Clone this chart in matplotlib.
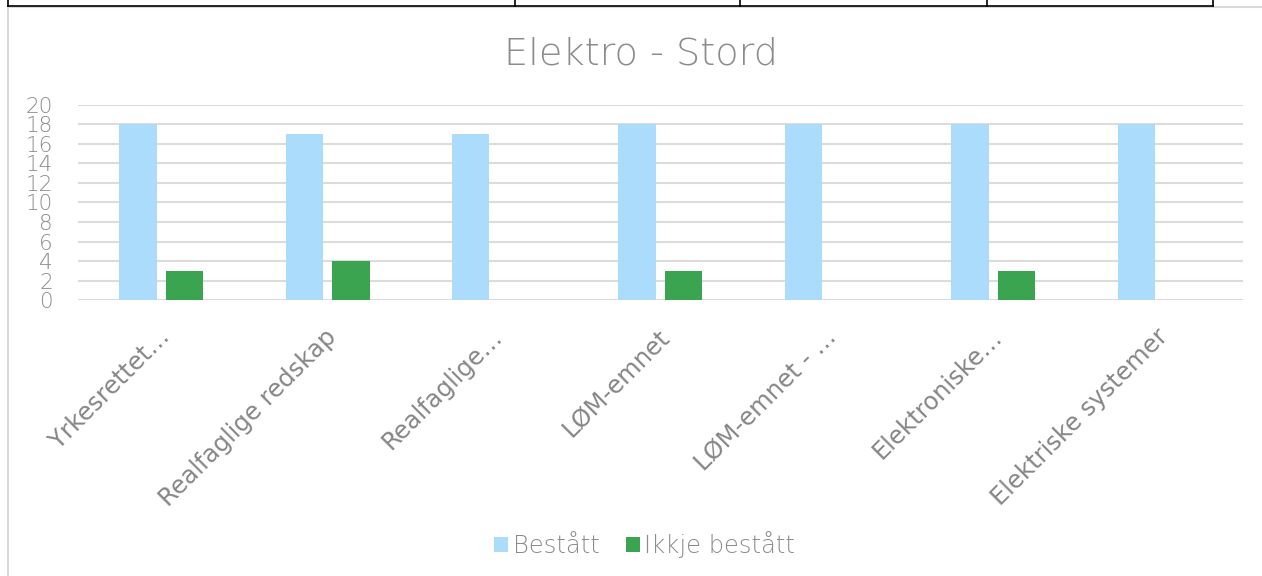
import matplotlib.pyplot as plt
import matplotlib.transforms as mtransforms
import numpy as np
from matplotlib.lines import Line2D

# data
categories = ["Yrkesrettet…", "Realfaglige redskap", "Realfaglige…", "LØM-emnet",
              "LØM-emnet - …", "Elektroniske…", "Elektriske systemer"]
bestatt = [18, 17, 17, 18, 18, 18, 18]
ikkje_bestatt = [3, 4, 0, 3, 0, 3, 0]

txt = "#8c8c8c"
plt.rcParams["font.family"] = ["DejaVu Sans"]

fig = plt.figure(figsize=(12.62, 5.76), dpi=100)
ax = fig.add_axes([0.0618, 0.479, 0.923, 0.339])

x = np.arange(len(categories))
w = 0.225
ax.bar(x - 0.14, bestatt, w, color="#acdcfc", label="Bestått", zorder=3)
ax.bar(x + 0.14, ikkje_bestatt, w, color="#3aa450", label="Ikkje bestått", zorder=3)

ax.set_xlim(-0.5, len(categories) - 0.5)
ax.set_ylim(0, 20)
ax.set_yticks(range(0, 21, 2))
ax.yaxis.grid(True, color="#dcdcdc", linewidth=1.5, zorder=0)
for s in ax.spines.values():
    s.set_visible(False)
ax.tick_params(length=0, colors=txt)
ax.tick_params(axis="y", labelsize=15.5, pad=18)
for lab in ax.get_yticklabels():
    lab.set_fontweight(200)
ax.set_xticks(x)
ax.set_xticklabels(categories, rotation=45, ha="right", va="center",
                   rotation_mode="anchor", fontsize=17.5, color="#868686")
off = mtransforms.ScaledTranslation(0.05, -0.28, fig.dpi_scale_trans)
for lab in ax.get_xticklabels():
    lab.set_transform(lab.get_transform() + off)

fig.text(0.508, 0.907, "Elektro - Stord", ha="center", va="center", fontsize=27.5,
         color=txt, fontweight=200)

leg = fig.legend(loc="center", bbox_to_anchor=(0.511, 0.054), ncol=2, frameon=False,
                 prop={"size": 17.5, "weight": 200}, labelcolor=txt,
                 handlelength=0.55, handleheight=0.55, handletextpad=0.2,
                 columnspacing=1.1)

# chart frame and cut-off table row above it
fig.add_artist(Line2D([0.0065, 0.0065], [0, 0.988], color="#d9d9d9", lw=1.5))
fig.add_artist(Line2D([0.0065, 1], [0.988, 0.988], color="#d9d9d9", lw=1.5))
fig.add_artist(Line2D([0.006, 0.961], [0.990, 0.990], color="black", lw=1.2))
for xv in [0.006, 0.408, 0.586, 0.782, 0.961]:
    fig.add_artist(Line2D([xv, xv], [0.990, 1], color="black", lw=1.2))

fig.savefig("out.png", dpi=100)
